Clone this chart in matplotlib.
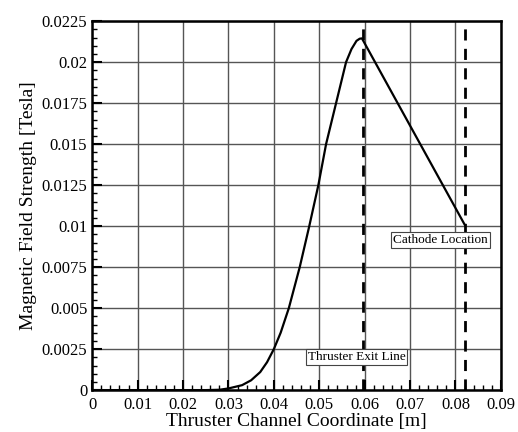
import matplotlib.pyplot as plt
from matplotlib.ticker import MultipleLocator

plt.rcParams['font.family'] = ['Liberation Serif', 'DejaVu Serif']

# field profile along the channel
x_pos = [0.0, 0.02, 0.025, 0.028, 0.030, 0.033, 0.035, 0.037, 0.0385, 0.040, 0.0415,
         0.0433, 0.0457, 0.0478, 0.0498, 0.0515, 0.0537, 0.0559, 0.0571, 0.0582, 0.0589,
         0.0594, 0.082]
b_field = [0.0, 0.0, 0.0, 0.00002, 0.0001, 0.0003, 0.0006, 0.0011, 0.0017, 0.0025, 0.0035,
           0.0050, 0.0075, 0.0100, 0.0125, 0.0150, 0.0175, 0.0200, 0.0208, 0.0213, 0.02143,
           0.02145, 0.0101]

x_ticks = [0.0, 0.01, 0.02, 0.03, 0.04, 0.05, 0.06, 0.07, 0.08, 0.09]
x_tick_labels = ['0', '0.01', '0.02', '0.03', '0.04', '0.05', '0.06', '0.07', '0.08', '0.09']
y_ticks = [0.0, 0.0025, 0.005, 0.0075, 0.01, 0.0125, 0.015, 0.0175, 0.02, 0.0225]
y_tick_labels = ['0', '0.0025', '0.005', '0.0075', '0.01', '0.0125', '0.015',
                 '0.0175', '0.02', '0.0225']

exit_x = 0.0597
cathode_x = 0.082

fig = plt.figure(figsize=(5.18, 4.32), dpi=100)
ax = fig.add_axes([0.178, 0.097, 0.789, 0.854])

ax.plot(x_pos, b_field, color='black', lw=1.6)
ax.axvline(exit_x, color='black', ls=(0, (4, 3)), lw=2)
ax.axvline(cathode_x, color='black', ls=(0, (4, 3)), lw=2)

box = dict(boxstyle='square,pad=0.15', fc='white', ec='#444444', lw=0.8)
ax.text(0.0582, 0.0020, 'Thruster Exit Line', ha='center', va='center', fontsize=9.5, bbox=box)
ax.text(0.0767, 0.00915, 'Cathode Location', ha='center', va='center', fontsize=9.5, bbox=box)

ax.set_xlim(0, 0.09)
ax.set_ylim(0, 0.0225)
ax.set_xticks(x_ticks, x_tick_labels)
ax.set_yticks(y_ticks, y_tick_labels)
ax.xaxis.set_minor_locator(MultipleLocator(0.002))
ax.yaxis.set_minor_locator(MultipleLocator(0.0005))
ax.tick_params(which='both', direction='in', labelsize=12, colors='black')
ax.tick_params(which='major', length=7, width=1.5)
ax.tick_params(which='minor', length=3.5, width=1)
ax.tick_params(axis='x', pad=5)
ax.grid(True, which='major', color='#555555', lw=1)

for s in ax.spines.values():
    s.set_linewidth(1.8)

ax.set_xlabel('Thruster Channel Coordinate [m]', fontsize=14, labelpad=0)
ax.set_ylabel('Magnetic Field Strength [Tesla]', fontsize=14, labelpad=3)

fig.savefig('out.png', dpi=100)
